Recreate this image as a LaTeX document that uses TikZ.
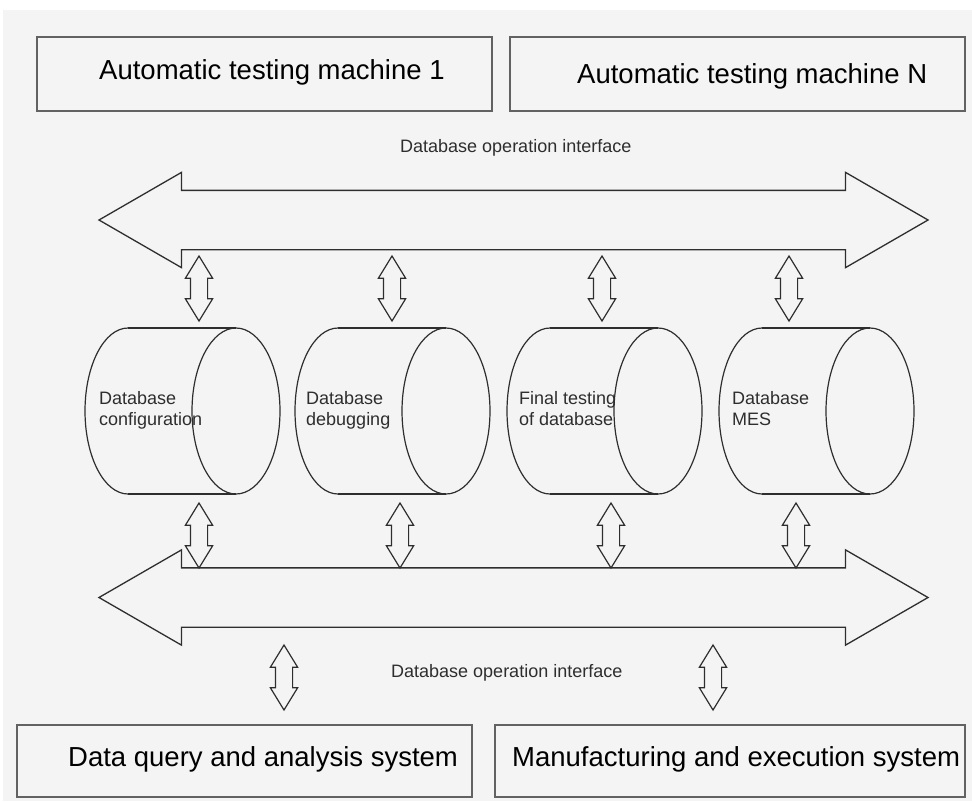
\documentclass[tikz,border=0pt]{standalone}
\usepackage{fontspec}
\setmainfont{Liberation Sans}
\usetikzlibrary{shapes.arrows}
\definecolor{paper}{HTML}{F4F4F4}
\definecolor{frame}{HTML}{626262}
\definecolor{ink}{HTML}{2E2E2E}
\tikzset{
  sysbox/.style={draw=frame, line width=1.6pt, minimum height=74pt, inner sep=0pt},
  bigtext/.style={font=\fontsize{27.5}{33}\selectfont, text=black, inner sep=0pt},
  smalltext/.style={font=\fontsize{18}{21}\selectfont, text=ink, inner sep=0pt, align=left},
  busarrow/.style={double arrow, draw=ink, line width=1.3pt, minimum height=829pt,
    inner xsep=0pt, inner ysep=29pt, double arrow head extend=18pt, double arrow tip angle=60},
  linkarrow/.style={double arrow, draw=ink, line width=1.2pt, rotate=90, minimum height=65pt,
    inner xsep=0pt, inner ysep=8pt, double arrow head extend=5pt, double arrow tip angle=63},
  dbline/.style={draw=ink, line width=1.2pt},
}
\begin{document}
\begin{tikzpicture}[x=1pt, y=-1pt]
\useasboundingbox (0,0) rectangle (972,801);
\fill[white] (0,0) rectangle (972,801);
\fill[paper] (3,10) rectangle (972,801);

% machines on top
\node[sysbox, minimum width=455pt] (m1) at (264.5,74) {};
\node[bigtext, anchor=base west] (m1t) at (99,79) {Automatic testing machine 1};
\node[sysbox, minimum width=455pt] (mN) at (737.5,74) {};
\node[bigtext, anchor=base west] (mNt) at (577,83) {Automatic testing machine N};

% upper interface bus
\node[smalltext, anchor=base west] (ifA) at (400,152) {Database operation interface};
\node[busarrow] (busA) at (513.5,220) {};

% databases
\foreach \lx in {128,338,550,762} {
  \draw[dbline] (\lx,328) -- (\lx+108,328);
  \draw[dbline] (\lx,494) -- (\lx+108,494);
  \draw[dbline] (\lx,328) arc[start angle=90, end angle=270, x radius=43pt, y radius=83pt];
  \draw[dbline] (\lx+108,411) ellipse[x radius=44pt, y radius=83pt];
}
\node[smalltext, anchor=north west] (db1) at (99,391) {Database\\configuration};
\node[smalltext, anchor=north west] (db2) at (306,391) {Database\\debugging};
\node[smalltext, anchor=north west] (db3) at (519,391) {Final testing\\of database};
\node[smalltext, anchor=north west] (db4) at (732,391) {Database\\MES};

% links between bus and databases
\node[linkarrow] (up1) at (199,288.5) {};
\node[linkarrow] (up2) at (392,288.5) {};
\node[linkarrow] (up3) at (602,288.5) {};
\node[linkarrow] (up4) at (789,288.5) {};
\node[linkarrow] (dn1) at (199,535.5) {};
\node[linkarrow] (dn2) at (400,535.5) {};
\node[linkarrow] (dn3) at (611,535.5) {};
\node[linkarrow] (dn4) at (796,535.5) {};

% lower interface bus
\node[busarrow] (busB) at (513.5,597.5) {};
\node[smalltext, anchor=base west] (ifB) at (391,677) {Database operation interface};
\node[linkarrow] (out1) at (284,677.5) {};
\node[linkarrow] (out2) at (713,677.5) {};

% systems at the bottom
\node[sysbox, minimum width=455pt, minimum height=72pt] (q) at (244.5,761) {};
\node[bigtext, anchor=base west] (qt) at (68,766) {Data query and analysis system};
\node[sysbox, minimum width=470pt, minimum height=72pt] (mes) at (730,761) {};
\node[bigtext, anchor=base west] (mest) at (512,766) {Manufacturing and execution system};
\end{tikzpicture}
\end{document}
